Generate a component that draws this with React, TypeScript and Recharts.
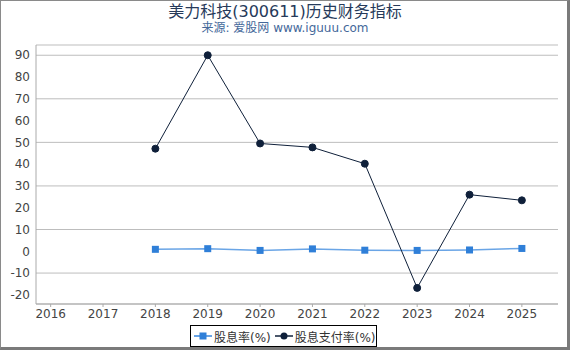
import React from 'react';
import { LineChart, Line, XAxis, YAxis, CartesianGrid } from 'recharts';

// ---------------------------------------------------------------------------
// Data
// ---------------------------------------------------------------------------
const years = [2016, 2017, 2018, 2019, 2020, 2021, 2022, 2023, 2024, 2025];
const dividendYield = [null, null, 0.9, 1.2, 0.4, 1.1, 0.5, 0.4, 0.6, 1.3];
const payoutRatio = [null, null, 47.1, 90.0, 49.5, 47.7, 40.2, -16.8, 26.0, 23.4];
const yTicks = [-20, -10, 0, 10, 20, 30, 40, 50, 60, 70, 80, 90];

const seriesNames = ['股息率(%)', '股息支付率(%)'];
const YIELD_COLOR = '#2f7fd8';
const YIELD_LINE = '#6aa5e6';
const PAYOUT_COLOR = '#0f203a';

const FONT = '"DejaVu Sans", "Noto Sans CJK SC", sans-serif';

const data = years.map((year, i) => ({
  year,
  yield: dividendYield[i],
  payout: payoutRatio[i],
}));

const SquareDot = (props: any) => {
  const { cx, cy, payload } = props;
  if (payload.yield == null || cx == null || cy == null) return <g />;
  return <rect x={cx - 3.5} y={cy - 3.5} width={7} height={7} fill={YIELD_COLOR} />;
};

export default function App(): React.JSX.Element {
  return (
    <div
      style={{
        position: 'fixed',
        top: 0,
        left: 0,
        width: 570,
        height: 350,
        background: '#fff',
        fontFamily: FONT,
      }}
    >
      {/* ── Title ── */}
      <div
        style={{
          position: 'absolute',
          top: 2,
          left: 0,
          width: 570,
          textAlign: 'center',
          fontSize: 16,
          color: '#263a5a',
          lineHeight: '20px',
          whiteSpace: 'nowrap',
        }}
      >
        美力科技(300611)历史财务指标
      </div>
      <div
        style={{
          position: 'absolute',
          top: 20,
          left: 0,
          width: 570,
          textAlign: 'center',
          fontSize: 12,
          color: '#44689a',
          lineHeight: '16px',
          whiteSpace: 'nowrap',
        }}
      >
        来源: 爱股网 www.iguuu.com
      </div>

      <div style={{ position: 'absolute', top: 0, left: 0 }}>
        <LineChart
          width={570}
          height={350}
          data={data}
          margin={{ top: 45, right: 12, bottom: 26, left: 0 }}
        >
          <CartesianGrid horizontal vertical={false} stroke="#bdbdbd" />
          <XAxis
            dataKey="year"
            type="number"
            domain={[2015.72, 2025.69]}
            ticks={years}
            allowDataOverflow
            height={20}
            tickSize={3}
            tickMargin={2}
            stroke="#aaa"
            tick={{ fill: '#444', fontSize: 12, fontFamily: FONT }}
          />
          <YAxis
            type="number"
            domain={[-24.2, 94.7]}
            ticks={yTicks}
            allowDataOverflow
            width={36}
            tickLine={false}
            tickSize={4}
            tickMargin={2}
            stroke="#aaa"
            tick={{ fill: '#444', fontSize: 12, fontFamily: FONT }}
          />
          <Line
            dataKey="yield"
            name={seriesNames[0]}
            stroke={YIELD_LINE}
            strokeWidth={1.5}
            dot={<SquareDot />}
            activeDot={false}
            isAnimationActive={false}
          />
          <Line
            dataKey="payout"
            name={seriesNames[1]}
            stroke={PAYOUT_COLOR}
            strokeWidth={1}
            dot={{ r: 3.5, fill: PAYOUT_COLOR, stroke: PAYOUT_COLOR, strokeWidth: 1 }}
            activeDot={false}
            isAnimationActive={false}
          />
        </LineChart>
      </div>

      {/* ── Legend ── */}
      <div
        style={{
          position: 'absolute',
          left: 190,
          top: 325,
          width: 185,
          height: 20,
          border: '1px solid #000',
          background: '#fff',
          display: 'flex',
          alignItems: 'center',
          fontSize: 12,
          color: '#333',
          whiteSpace: 'nowrap',
          overflow: 'hidden',
        }}
      >
        <svg width={18} height={10} style={{ marginLeft: 3, marginRight: 2, flexShrink: 0 }}>
          <line x1={0} y1={5} x2={18} y2={5} stroke={YIELD_LINE} strokeWidth={2} />
          <rect x={5.5} y={1.5} width={7} height={7} fill={YIELD_COLOR} />
        </svg>
        <span style={{ flexShrink: 0 }}>{seriesNames[0]}</span>
        <svg width={18} height={10} style={{ marginLeft: 4, marginRight: 2, flexShrink: 0 }}>
          <line x1={0} y1={5} x2={18} y2={5} stroke={PAYOUT_COLOR} strokeWidth={1.5} />
          <circle cx={9} cy={5} r={3.5} fill={PAYOUT_COLOR} />
        </svg>
        <span style={{ flexShrink: 0 }}>{seriesNames[1]}</span>
      </div>

      {/* ── Frame ── */}
      <div
        style={{
          position: 'absolute',
          inset: 0,
          borderTop: '1px solid #8a8a8a',
          borderLeft: '1px solid #8a8a8a',
          borderRight: '3px solid #7a7a7a',
          borderBottom: '3px solid #7a7a7a',
          pointerEvents: 'none',
        }}
      />
    </div>
  );
}
